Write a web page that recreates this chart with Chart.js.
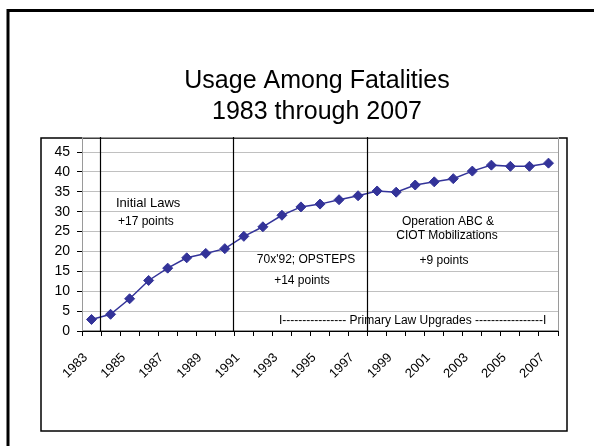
<!DOCTYPE html>
<html>
<head>
<meta charset="utf-8">
<style>
  html, body { margin: 0; padding: 0; background: #fff; }
  #wrap { width: 594px; height: 446px; }
</style>
<script src="https://cdn.jsdelivr.net/npm/chart.js@4.4.1/dist/chart.umd.min.js"></script>
</head>
<body>
<div id="wrap"><canvas id="usageChart" width="594" height="446"></canvas></div>
<script>
const years = ['1983', '1984', '1985', '1986', '1987', '1988', '1989', '1990', '1991', '1992',
    '1993', '1994', '1995', '1996', '1997', '1998', '1999', '2000', '2001', '2002',
    '2003', '2004', '2005', '2006', '2007'];
const usage = [2.9, 4.2, 8.1, 12.7, 15.8, 18.4, 19.5, 20.7, 23.8, 26.2,
    29.1, 31.2, 31.9, 33.0, 34.0, 35.2, 34.9, 36.7, 37.5, 38.3,
    40.2, 41.7, 41.4, 41.4, 42.2];
const phaseStarts = ['1984', '1991', '1998'];
const titleLines = ['Usage Among Fatalities', '1983 through 2007'];

const FONT = 'Arial, "Liberation Sans", sans-serif';

// text boxes placed over the plot, like on the slide
const notes = [
    { text: 'Initial Laws', x: 116, y: 207, size: 13, align: 'left' },
    { text: '+17 points', x: 118, y: 225, size: 12, align: 'left' },
    { text: "70x'92; OPSTEPS", x: 306, y: 263, size: 12, align: 'center' },
    { text: '+14 points', x: 302, y: 284, size: 12, align: 'center' },
    { text: 'Operation ABC &', x: 448, y: 225, size: 12, align: 'center' },
    { text: 'CIOT Mobilizations', x: 447, y: 239, size: 12, align: 'center' },
    { text: '+9 points', x: 444, y: 264, size: 12, align: 'center' },
    { text: 'I---------------- Primary Law Upgrades -----------------I', x: 279, y: 324, size: 12, align: 'left' }
];

const slideDecor = {
    id: 'slideDecor',
    beforeDraw(chart) {
        const ctx = chart.ctx;
        ctx.save();
        ctx.fillStyle = '#fff';
        ctx.fillRect(0, 0, chart.width, chart.height);

        // slide frame (top and left edges visible)
        ctx.strokeStyle = '#000';
        ctx.lineWidth = 3;
        ctx.beginPath();
        ctx.moveTo(8, chart.height);
        ctx.lineTo(8, 10.5);
        ctx.lineTo(chart.width, 10.5);
        ctx.stroke();

        // chart object frame
        ctx.lineWidth = 1.5;
        ctx.strokeRect(41, 138, 526, 293);

        // title
        ctx.fillStyle = '#000';
        ctx.font = '25px ' + FONT;
        ctx.textAlign = 'center';
        ctx.textBaseline = 'alphabetic';
        ctx.fillText(titleLines[0], 317, 88);
        ctx.fillText(titleLines[1], 317, 119);
        ctx.restore();
    },
    beforeDatasetsDraw(chart) {
        const ctx = chart.ctx;
        const a = chart.chartArea;
        ctx.save();
        ctx.strokeStyle = '#9a9a9a';
        ctx.lineWidth = 1;
        ctx.strokeRect(a.left + 0.5, a.top - 14.5, a.right - a.left, a.bottom - a.top + 14);
        ctx.restore();
    },
    afterDraw(chart) {
        const ctx = chart.ctx;
        const a = chart.chartArea;
        const x = chart.scales.x;
        ctx.save();
        ctx.strokeStyle = '#000';
        ctx.lineWidth = 1.2;
        phaseStarts.forEach(p => {
            const i = years.indexOf(p);
            const px = Math.round((x.getPixelForValue(i - 1) + x.getPixelForValue(i)) / 2) - 0.5;
            ctx.beginPath();
            ctx.moveTo(px, a.top - 15);
            ctx.lineTo(px, a.bottom);
            ctx.stroke();
        });

        ctx.fillStyle = '#000';
        ctx.textBaseline = 'alphabetic';
        notes.forEach(n => {
            ctx.font = n.size + 'px ' + FONT;
            ctx.textAlign = n.align;
            ctx.fillText(n.text, n.x, n.y);
        });
        ctx.restore();
    }
};

new Chart(document.getElementById('usageChart'), {
    type: 'line',
    data: {
        labels: years,
        datasets: [{
            label: 'Usage',
            data: usage,
            borderColor: '#333399',
            backgroundColor: '#333399',
            borderWidth: 1.5,
            pointStyle: 'rectRot',
            pointRadius: 5,
            pointHoverRadius: 5,
            pointBackgroundColor: '#333399',
            pointBorderColor: '#333399',
            pointBorderWidth: 1,
            tension: 0
        }]
    },
    options: {
        responsive: false,
        animation: false,
        devicePixelRatio: 1,
        layout: {
            padding: { left: 42, right: 36, top: 152, bottom: 35 }
        },
        plugins: {
            legend: { display: false },
            title: { display: false },
            tooltip: { enabled: false }
        },
        scales: {
            x: {
                offset: true,
                afterFit(scale) { scale.height = 80; },
                grid: {
                    offset: true,
                    drawOnChartArea: false,
                    drawTicks: true,
                    tickLength: 5,
                    tickColor: '#000'
                },
                border: { color: '#000', width: 1 },
                ticks: {
                    autoSkip: false,
                    maxRotation: 45,
                    minRotation: 45,
                    padding: 14,
                    labelOffset: -6,
                    color: '#000',
                    font: { family: FONT, size: 13 },
                    callback(value, index) {
                        return index % 2 === 0 ? years[index] : '';
                    }
                }
            },
            y: {
                min: 0,
                max: 45,
                afterFit(scale) { scale.width = 40; },
                grid: {
                    color: '#c0c0c0',
                    tickColor: '#000',
                    tickLength: 5
                },
                border: { color: '#000', width: 1 },
                ticks: {
                    stepSize: 5,
                    padding: 7,
                    color: '#000',
                    font: { family: FONT, size: 14 }
                }
            }
        }
    },
    plugins: [slideDecor]
});
</script>
</body>
</html>
